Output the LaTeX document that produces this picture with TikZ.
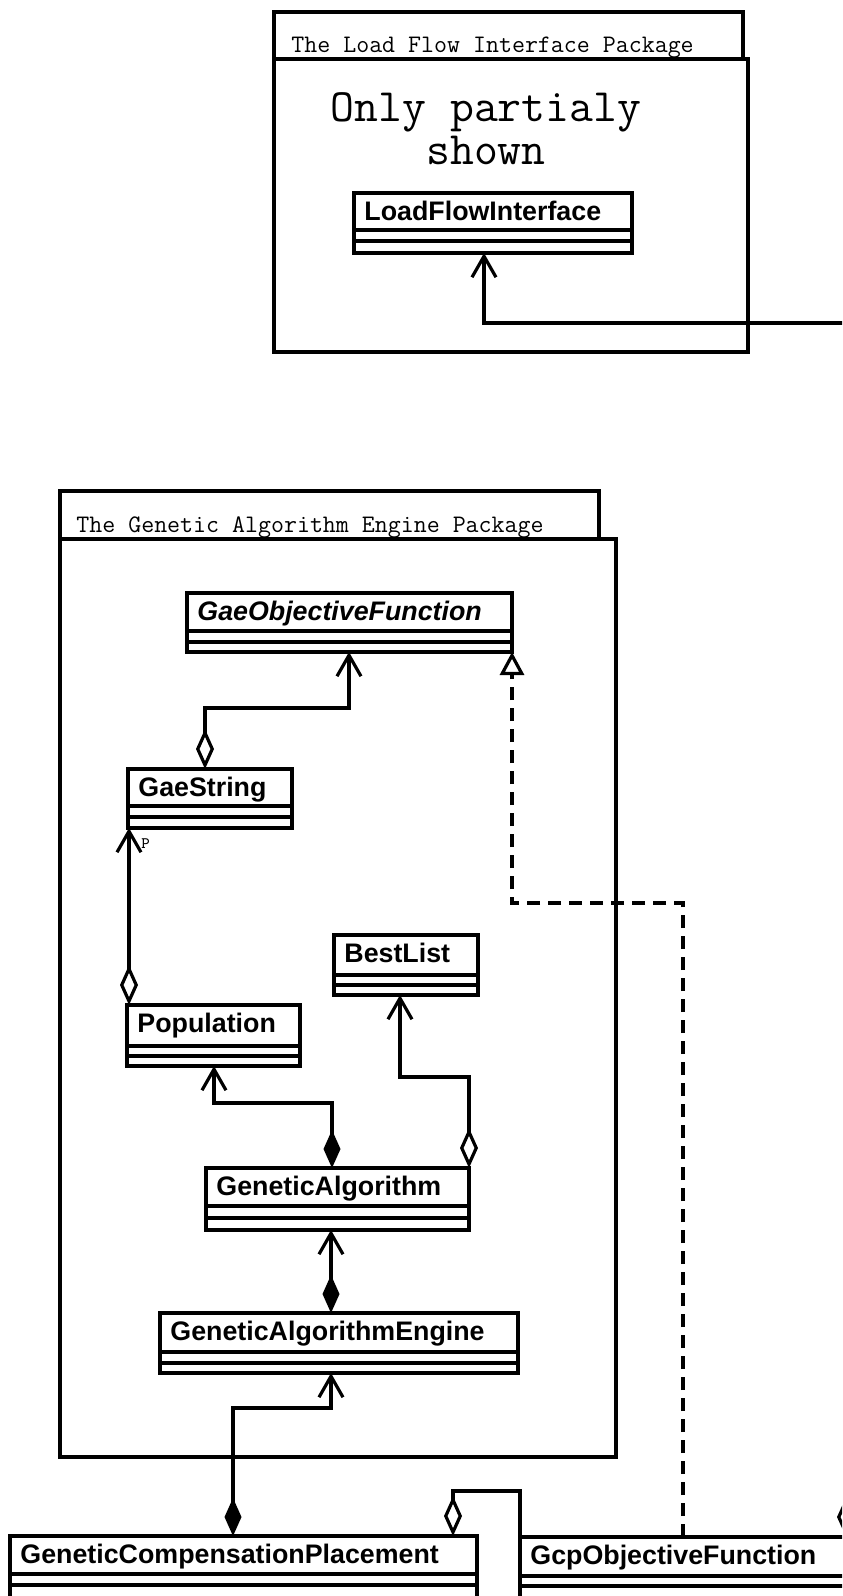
\documentclass[tikz,border=0pt]{standalone}
\usepackage{fontspec}
\setmainfont{Liberation Sans}
\usetikzlibrary{arrows.meta,calc}

% one unit = one pixel of the drawing, y grows downwards
\tikzset{
  x=0.5pt, y=-0.5pt,
  outline/.style={draw, line width=1.6pt, rectangle, inner sep=0pt, outer sep=0pt},
  classbox/.style={outline, fill=white},
  classname/.style={anchor=base west, inner sep=0pt, font=\fontsize{13.4pt}{15pt}\selectfont\bfseries},
  pkglabel/.style={anchor=base west, inner sep=0pt, font=\ttfamily\fontsize{12.6pt}{14pt}\selectfont},
  bignote/.style={anchor=base, inner sep=0pt, align=center, font=\ttfamily\fontsize{23.2pt}{21.5pt}\selectfont},
  rolelabel/.style={anchor=base west, inner sep=0pt, font=\ttfamily\fontsize{8pt}{9pt}\selectfont},
  link/.style={line width=1.6pt},
  navtip/.tip={Straight Barb[length=10.5pt,width=12pt]},
  hollowdia/.tip={Diamond[open,length=20pt,width=9pt]},
  soliddia/.tip={Diamond[length=19pt,width=8.5pt]},
  aggr/.style={link, hollowdia-navtip},
  compo/.style={link, soliddia-navtip},
  aggrplain/.style={link, hollowdia-},
  realize/.style={link, dash pattern=on 6.5pt off 4pt, -{Triangle[open,length=11.5pt,width=12pt]}},
}

% #1 name, #2 left, #3 top, #4 right, #5 first divider, #6 second divider, #7 bottom, #8 font extra, #9 title
\newcommand\umlclass[9]{%
  \node[classbox, anchor=north west,
        minimum width={(#4-(#2))*0.5pt}, minimum height={(#7-(#3))*0.5pt}] (#1) at (#2,#3) {};
  \draw[line width=1.6pt] (#2,#5) -- (#4,#5) (#2,#6) -- (#4,#6);
  \node[classname,#8] (#1-title) at (#2+10,#3+27) {#9};
}
% #1 name, #2 left, #3 top, #4 right, #5 bottom
\newcommand\pkgframe[5]{%
  \node[outline, anchor=north west,
        minimum width={(#4-(#2))*0.5pt}, minimum height={(#5-(#3))*0.5pt}] (#1) at (#2,#3) {};
}

\begin{document}
\begin{tikzpicture}
\useasboundingbox (0,0) rectangle (842,1596);
\fill[white] (0,0) rectangle (842,1596);
\clip (0,0) rectangle (842,1596);

% ---- The Load Flow Interface package ----
\pkgframe{lfp-tab}{274}{12}{743}{59}
\pkgframe{lfp}{274}{59}{748}{352}
\node[pkglabel] (lfp-label) at (291,52) {The Load Flow Interface Package};
% the base anchor of a two-line node sits on its last line
\node[bignote] (lfp-note) at (486,164) {Only partialy\\shown};

% ---- The Genetic Algorithm Engine package ----
\pkgframe{gap-tab}{60}{491}{599}{539}
\pkgframe{gap}{60}{539}{616}{1457}
\node[pkglabel] (gap-label) at (76,532) {The Genetic Algorithm Engine Package};

% ---- classes ----
\umlclass{lfi}{354}{193}{632}{230}{241}{253}{}{LoadFlowInterface}
\umlclass{gof}{187}{593}{512}{631}{642}{652}{font=\fontsize{13.4pt}{15pt}\selectfont\bfseries\itshape}{GaeObjectiveFunction}
\umlclass{gstr}{128}{769}{292}{806}{817}{828}{}{GaeString}
\umlclass{best}{334}{935}{478}{975}{985}{995}{}{BestList}
\umlclass{pop}{127}{1005}{300}{1046}{1056}{1066}{}{Population}
\umlclass{ga}{206}{1168}{469}{1206}{1218}{1230}{}{GeneticAlgorithm}
\umlclass{gae}{160}{1313}{518}{1352}{1363}{1373}{}{GeneticAlgorithmEngine}
\umlclass{gcp}{10}{1536}{477}{1574}{1585}{1600}{}{GeneticCompensationPlacement}
\umlclass{gcpof}{520}{1537}{900}{1576}{1586}{1600}{}{GcpObjectiveFunction}

% ---- relations ----
\draw[aggr] ($(gcpof.north west)+(326,0)$) |- ($(lfi.south west)+(130,70)$) -- ($(lfi.south west)+(130,0)$);
\draw[aggr] ($(gstr.north west)+(77,0)$) |- ($(gof.south west)+(162,56)$) -- ($(gof.south west)+(162,0)$);
\draw[aggr] ($(pop.north west)+(2,0)$) -- ($(gstr.south west)+(1,0)$);
\node[rolelabel] (role-p) at ($(gstr.south west)+(13,20)$) {P};
\draw[compo] ($(ga.north west)+(126,0)$) |- ($(pop.south west)+(87,37)$) -- ($(pop.south west)+(87,0)$);
\draw[aggr] (ga.north east) |- ($(best.south west)+(66,82)$) -- ($(best.south west)+(66,0)$);
\draw[compo] ($(gae.north west)+(171,0)$) -- ($(ga.south west)+(125,0)$);
\draw[compo] ($(gcp.north west)+(223,0)$) |- ($(gae.south west)+(171,35)$) -- ($(gae.south west)+(171,0)$);
\draw[aggrplain] ($(gcp.north west)+(443,0)$) |- ($(gcpof.north west)+(0,-46)$) -- (gcpof.north west);
\draw[realize] ($(gcpof.north west)+(163,0)$) |- ($(gof.south east)+(0,251)$) -- (gof.south east);
\end{tikzpicture}
\end{document}
